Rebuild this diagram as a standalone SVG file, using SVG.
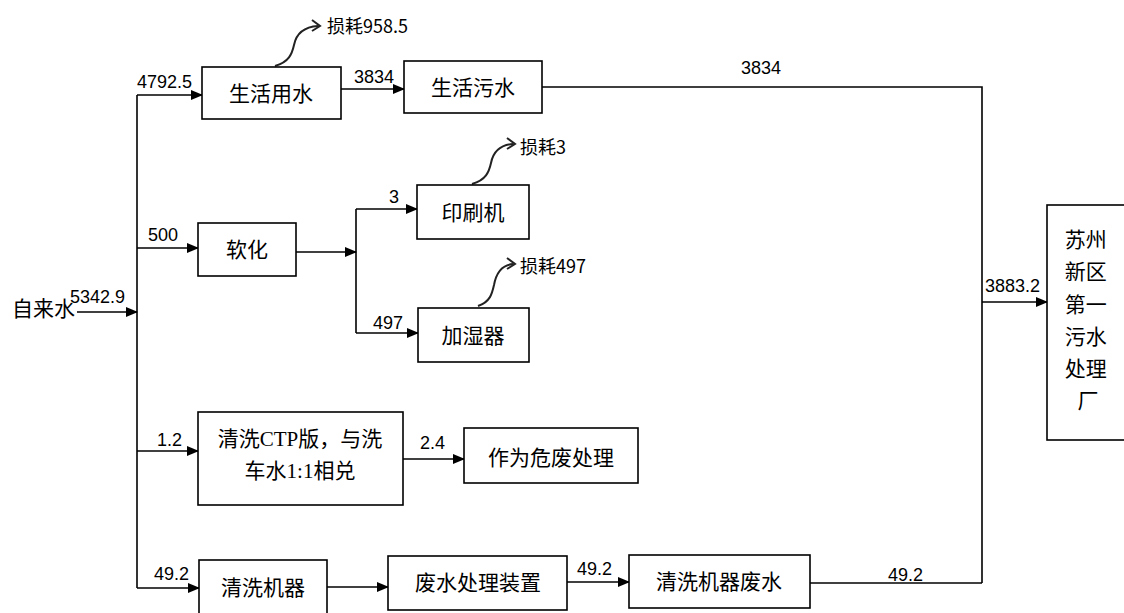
<svg xmlns="http://www.w3.org/2000/svg" width="1124" height="613" viewBox="0 0 1124 613">
<defs>
<marker id="ah" markerWidth="12" markerHeight="10" refX="11" refY="5" orient="auto" markerUnits="userSpaceOnUse">
<path d="M0,0 L12,5 L0,10 Z" fill="#000"/>
</marker>
<style>
.box{fill:#fff;stroke:#000;stroke-width:1.6}
.ln{fill:none;stroke:#000;stroke-width:1.6}
.ar{fill:none;stroke:#000;stroke-width:1.6;marker-end:url(#ah)}
.loss{fill:none;stroke:#222;stroke-width:2}
.cn{font-family:"Noto Sans CJK SC","Noto Sans",sans-serif;font-size:21px;fill:#000}
.sm{font-family:"Noto Sans CJK SC","Noto Sans",sans-serif;font-size:18px;fill:#000}
.num{font-family:"Liberation Sans","Noto Sans",sans-serif;font-size:18px;fill:#000}
.ser{font-family:"Liberation Serif",serif}
</style>
</defs>
<rect width="1124" height="613" fill="#fff"/>

<g id="connectors">
<line class="ar" x1="77" y1="312" x2="137" y2="312"/>
<line class="ln" x1="137" y1="95" x2="137" y2="588"/>
<line class="ar" x1="137" y1="95" x2="202" y2="95"/>
<line class="ar" x1="341" y1="89" x2="404" y2="89"/>
<polyline class="ln" points="542,87 982,87 982,583"/>
<line class="ar" x1="137" y1="248" x2="198" y2="248"/>
<line class="ar" x1="296" y1="252" x2="356" y2="252"/>
<line class="ln" x1="356" y1="209" x2="356" y2="333"/>
<line class="ar" x1="356" y1="209" x2="417" y2="209"/>
<line class="ar" x1="356" y1="333" x2="418" y2="333"/>
<line class="ar" x1="137" y1="451" x2="198" y2="451"/>
<line class="ar" x1="403" y1="459" x2="464" y2="459"/>
<line class="ar" x1="137" y1="588" x2="199" y2="588"/>
<line class="ar" x1="327" y1="587" x2="388" y2="587"/>
<line class="ar" x1="567" y1="582" x2="629" y2="582"/>
<line class="ln" x1="810" y1="583" x2="982" y2="583"/>
<line class="ar" x1="982" y1="302" x2="1047" y2="302"/>
<path class="loss" d="M275,66 C289,62 292,54 294,45 C296,35 302,27 318,26"/>
<path class="loss" d="M312,20 L320,26 L312,31"/>
<path class="loss" d="M472,184 C486,180 489,172 491,163 C493,153 499,145 513,144"/>
<path class="loss" d="M507,138 L515,144 L507,149"/>
<path class="loss" d="M478,306 C490,302 492,294 494,285 C496,274 501,265 513,264"/>
<path class="loss" d="M507,258 L515,264 L507,269"/>
<text class="num" x="70" y="303">5342.9</text>
<text class="num" x="137" y="88">4792.5</text>
<text class="num" x="354" y="83">3834</text>
<text class="num" x="741" y="74">3834</text>
<text class="num" x="148" y="241">500</text>
<text class="num" x="389" y="203">3</text>
<text class="num" x="373" y="329">497</text>
<text class="num" x="157" y="446">1.2</text>
<text class="num" x="420" y="449">2.4</text>
<text class="num" x="154" y="580">49.2</text>
<text class="num" x="577" y="575">49.2</text>
<text class="num" x="888" y="581">49.2</text>
<text class="num" x="985" y="292">3883.2</text>
<text class="sm" x="327" y="33">损耗958.5</text>
<text class="sm" x="520" y="154">损耗3</text>
<text class="sm" x="520" y="273">损耗497</text>
</g>

<g id="n-src"><text class="cn" x="12" y="316">自来水</text></g>

<g id="n-shyy"><rect class="box" x="202" y="67" width="139" height="52"/><text class="cn" x="271" y="101" text-anchor="middle">生活用水</text></g>
<g id="n-shws"><rect class="box" x="404" y="61" width="138" height="52"/><text class="cn" x="473" y="95" text-anchor="middle">生活污水</text></g>
<g id="n-rh"><rect class="box" x="198" y="223" width="98" height="53"/><text class="cn" x="247" y="257" text-anchor="middle">软化</text></g>
<g id="n-ysj"><rect class="box" x="417" y="185" width="112" height="54"/><text class="cn" x="473" y="220" text-anchor="middle">印刷机</text></g>
<g id="n-jsq"><rect class="box" x="418" y="308" width="111" height="54"/><text class="cn" x="473" y="343" text-anchor="middle">加湿器</text></g>
<g id="n-ctp"><rect class="box" x="198" y="412" width="205" height="93"/>
<text class="cn" x="300" y="446" text-anchor="middle">清洗<tspan class="ser">CTP</tspan>版，与洗</text>
<text class="cn" x="300" y="478" text-anchor="middle">车水<tspan class="ser">1:1</tspan>相兑</text></g>
<g id="n-wf"><rect class="box" x="464" y="428" width="174" height="55"/><text class="cn" x="551" y="465" text-anchor="middle">作为危废处理</text></g>
<g id="n-qxjq"><rect class="box" x="199" y="560" width="128" height="62"/><text class="cn" x="263" y="595" text-anchor="middle">清洗机器</text></g>
<g id="n-fscl"><rect class="box" x="388" y="556" width="179" height="54"/><text class="cn" x="478" y="590" text-anchor="middle">废水处理装置</text></g>
<g id="n-qxfs"><rect class="box" x="629" y="555" width="181" height="53"/><text class="cn" x="719" y="589" text-anchor="middle">清洗机器废水</text></g>
<g id="n-plant"><rect class="box" x="1047" y="205" width="90" height="235"/>
<text class="cn" text-anchor="middle">
<tspan x="1088" y="247">苏州</tspan>
<tspan x="1088" y="279">新区</tspan>
<tspan x="1088" y="312">第一</tspan>
<tspan x="1088" y="344">污水</tspan>
<tspan x="1088" y="376">处理</tspan>
<tspan x="1088" y="408">厂</tspan>
</text></g>
</svg>
